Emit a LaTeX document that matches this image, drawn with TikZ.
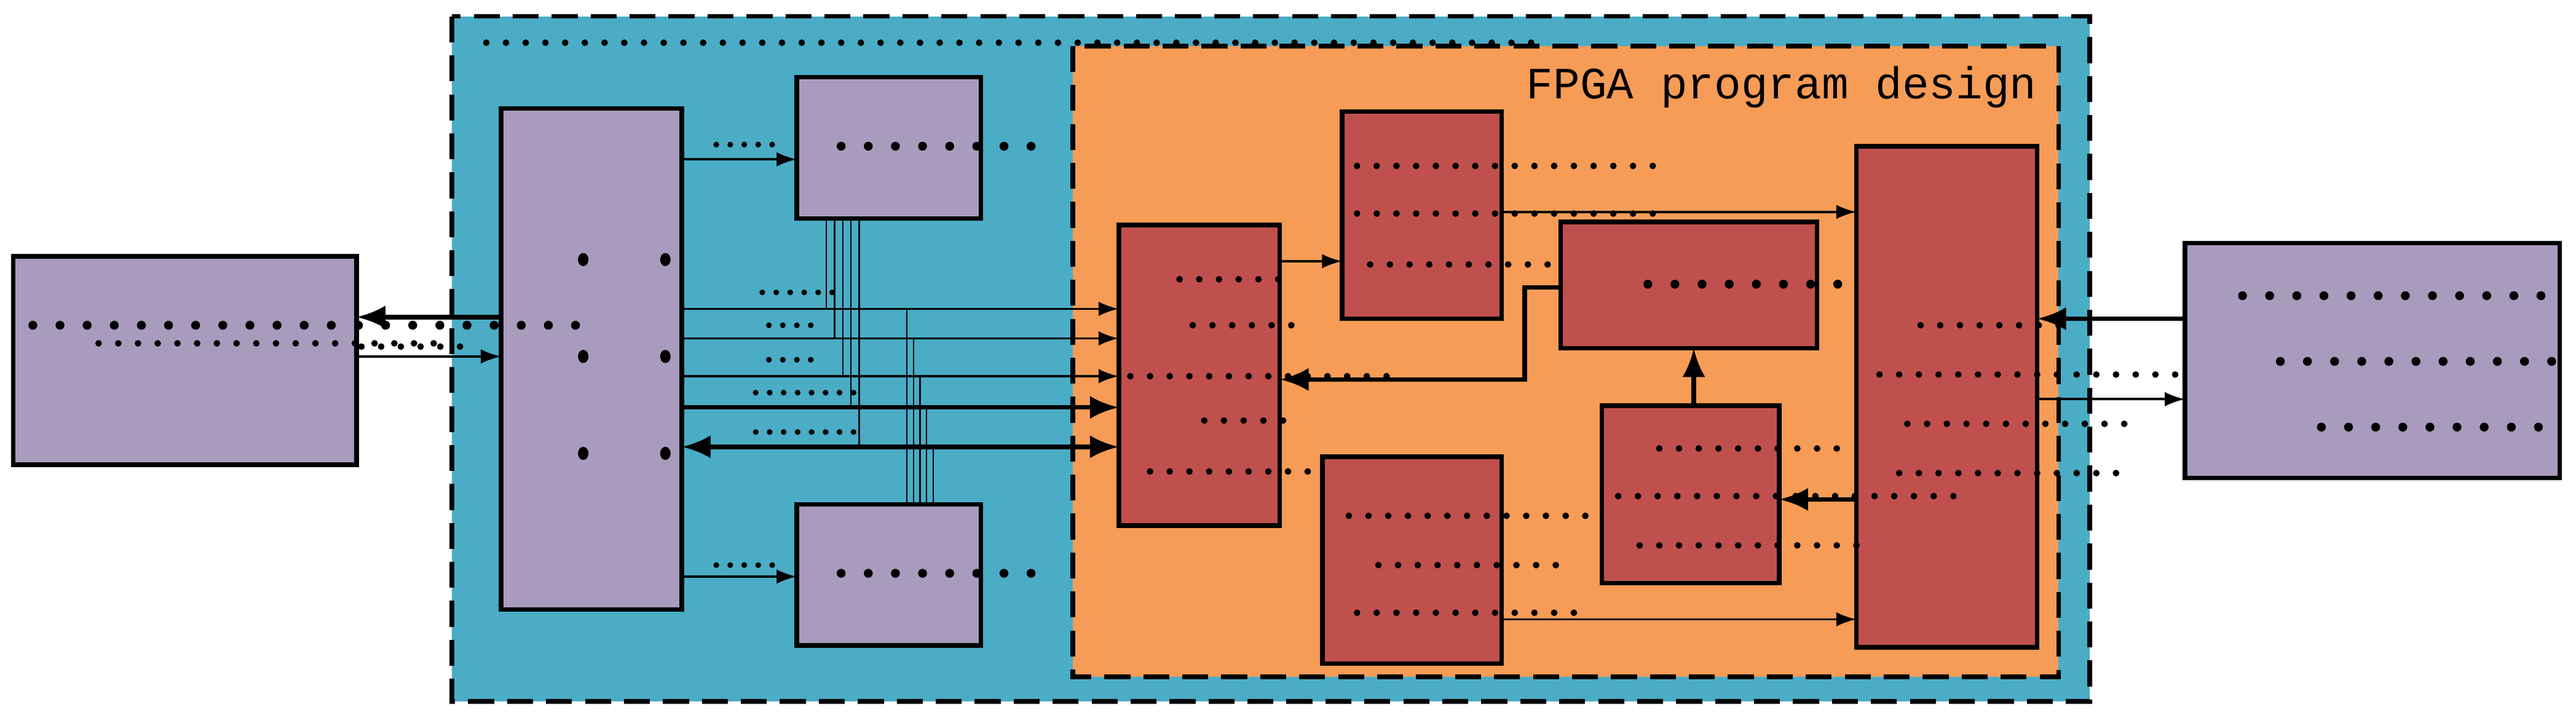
\documentclass[tikz,border=0pt]{standalone}
\usepackage{fontspec}
\newfontfamily\mono{Liberation Mono}
\usetikzlibrary{arrows.meta}
\definecolor{cblue}{HTML}{4BACC6}
\definecolor{corange}{HTML}{F79C57}
\definecolor{cpurple}{HTML}{A99BBD}
\definecolor{cred}{HTML}{C0504D}
\newcommand{\mybox}[6]{\node[#6, minimum width={(#4-#2)*0.02cm}, minimum height={(#5-#3)*0.02cm}] (#1) at ({(#2+#4)/2},{(#3+#5)/2}) {};}
\begin{document}
\begin{tikzpicture}[x=0.02cm,y=-0.02cm,
  bx/.style={draw,line width=1.6pt,inner sep=0pt,outer sep=0pt},
  pb/.style={bx,fill=cpurple},
  rb/.style={bx,fill=cred},
  dA/.style={line width=2.3pt,line cap=round,dash pattern=on 0pt off 6.83pt},
  dB/.style={line width=3.1pt,line cap=round,dash pattern=on 0pt off 9.4pt},
  dS/.style={line width=2pt,line cap=round,dash pattern=on 0pt off 4.84pt},
  dBig/.style={fill=black},
  th/.style={line width=0.8pt,-{Latex[length=7pt,width=5pt]}},
  tk/.style={line width=1.6pt,-{Latex[length=10pt,width=8pt]}},
  bus/.style={line width=0.5pt}]
\useasboundingbox (0,0) rectangle (1568,437);
% containers
\fill[cblue] (275,10) rectangle (1272,427);
\draw[line width=1.6pt,dash pattern=on 9pt off 4.5pt] (275,10) rectangle (1272,427);
\fill[corange] (653,28) rectangle (1253,412);
\draw[line width=1.6pt,dash pattern=on 9pt off 4.5pt] (653,28) rectangle (1253,412);
\node[font=\mono\fontsize{15.5}{16}\selectfont,anchor=base east,inner sep=0pt] (title) at (1240,60) {FPGA program design};
\draw[dA] (296,26) -- (940,26);
% boxes
\mybox{L}{8}{156}{217}{283}{pb}
\mybox{R}{1330}{148}{1558}{291}{pb}
\mybox{P}{305}{66}{415}{371}{pb}
\mybox{U}{485}{47}{597}{133}{pb}
\mybox{D}{485}{307}{597}{393}{pb}
\mybox{A}{681}{137}{779}{320}{rb}
\mybox{B}{817}{68}{914}{194}{rb}
\mybox{C}{950}{135}{1106}{212}{rb}
\mybox{E}{975}{247}{1083}{355}{rb}
\mybox{G}{805}{278}{914}{404}{rb}
\mybox{F}{1130}{89}{1240}{394}{rb}
% big dots in P
\foreach \x in {355,405} \foreach \y in {158,217,276} \fill (\x,\y) ellipse (3.2 and 4);
% dotted text rows
\draw[dB] (20,198) -- (360,198);
\draw[dA] (60,209) -- (275,209);
\draw[dA] (220,211) -- (280,211);
\draw[dB] (512,89) -- (632,89);
\draw[dB] (512,349) -- (632,349);
\draw[dS] (436,88) -- (477,88);
\draw[dS] (436,344) -- (477,344);
\draw[dS] (464,178) -- (507,178);
\draw[dS] (468,198) -- (494,198);
\draw[dS] (468,219) -- (494,219);
\draw[dS] (460,239) -- (520,239);
\draw[dS] (460,263) -- (520,263);
\draw[dA] (718,170) -- (785,170);
\draw[dA] (726,198) -- (790,198);
\draw[dA] (688,229) -- (855,229);
\draw[dA] (733,256) -- (784,256);
\draw[dA] (700,287) -- (800,287);
\draw[dA] (826,101) -- (1016,101);
\draw[dA] (826,130) -- (1016,130);
\draw[dA] (834,161) -- (947,161);
\draw[dB] (1003,173) -- (1121,173);
\draw[dA] (1010,273) -- (1124,273);
\draw[dA] (985,302) -- (1199,302);
\draw[dA] (998,332) -- (1136,332);
\draw[dA] (821,314) -- (973,314);
\draw[dA] (839,344) -- (952,344);
\draw[dA] (826,373) -- (965,373);
\draw[dA] (1169,198) -- (1260,198);
\draw[dA] (1144,228) -- (1330,228);
\draw[dA] (1161,258) -- (1300,258);
\draw[dA] (1156,288) -- (1295,288);
\draw[dB] (1365,180) -- (1560,180);
\draw[dB] (1388,220) -- (1560,220);
\draw[dB] (1413,260) -- (1560,260);
% buses
\foreach \x/\y in {503/188,508/206,513/229,518/248,523/272} \draw[bus] (U.south -| \x,0) -- (\x,\y);
\foreach \x/\y in {552/188,556/206,560/229,564/248,568/272} \draw[bus] (D.north -| \x,0) -- (\x,\y);
% connectors
\draw[tk] (P.west |- 0,193) -- (L.east |- 0,193);
\draw[th] (L.east |- 0,217) -- (P.west |- 0,217);
\draw[th] (P.east |- 0,97) -- (U.west |- 0,97);
\draw[th] (P.east |- 0,351) -- (D.west |- 0,351);
\draw[th] (P.east |- 0,188) -- (A.west |- 0,188);
\draw[th] (P.east |- 0,206) -- (A.west |- 0,206);
\draw[th] (P.east |- 0,229) -- (A.west |- 0,229);
\draw[tk] (P.east |- 0,248) -- (A.west |- 0,248);
\draw[tk,{Latex[length=10pt,width=8pt]}-{Latex[length=10pt,width=8pt]}] (P.east |- 0,272) -- (A.west |- 0,272);
\draw[th] (A.east |- 0,159) -- (B.west |- 0,159);
\draw[th] (B.east |- 0,129) -- (F.west |- 0,129);
\draw[tk] (C.west |- 0,175) -- (928,175) -- (928,231) -- (A.east |- 0,231);
\draw[tk] (E.north -| 1031,0) -- (C.south -| 1031,0);
\draw[tk] (F.west |- 0,304) -- (E.east |- 0,304);
\draw[th] (G.east |- 0,377) -- (F.west |- 0,377);
\draw[tk] (R.west |- 0,194) -- (F.east |- 0,194);
\draw[th] (F.east |- 0,243) -- (R.west |- 0,243);
\end{tikzpicture}
\end{document}
